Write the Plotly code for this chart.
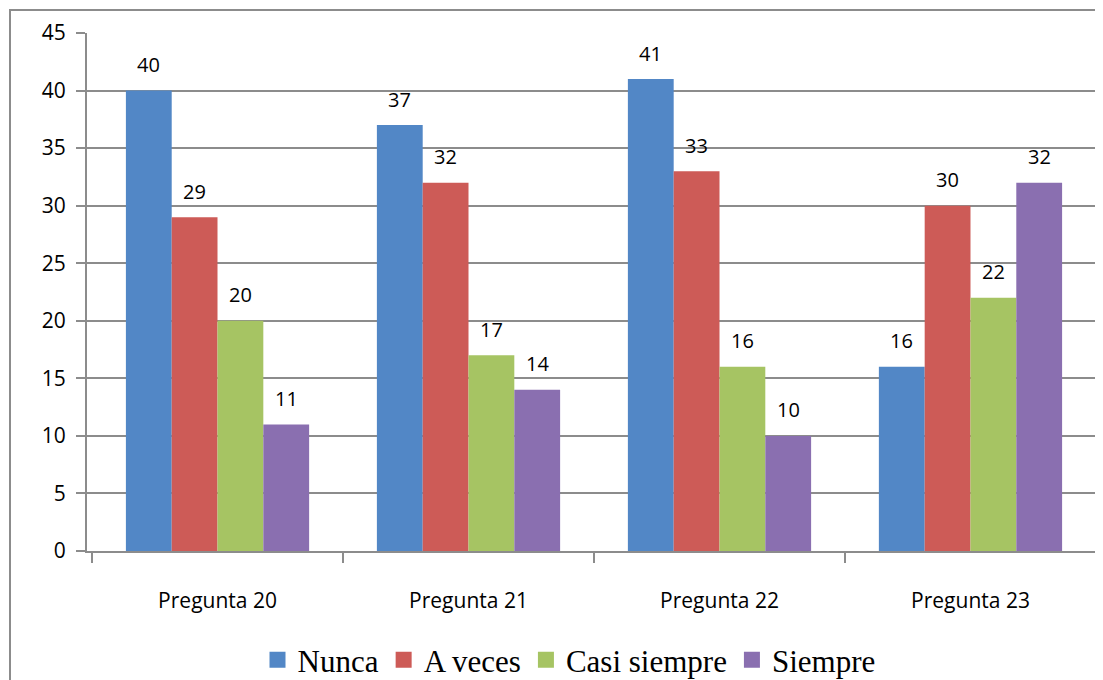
import plotly.graph_objects as go

categories = ["Pregunta 20", "Pregunta 21", "Pregunta 22", "Pregunta 23"]
series_names = ["Nunca", "A veces", "Casi siempre", "Siempre"]
nunca = [40, 37, 41, 16]
a_veces = [29, 32, 33, 30]
casi_siempre = [20, 17, 16, 22]
siempre = [11, 14, 10, 32]
y_ticks = [0, 5, 10, 15, 20, 25, 30, 35, 40, 45]

series_values = [nunca, a_veces, casi_siempre, siempre]
colors = ["#5287c6", "#cd5b57", "#a6c463", "#8a6fb0"]

bargap = 0.27
bar_w = (1 - bargap) / len(series_names)

W, H = 1095, 672
L, R, T, B = 79, 2, 25, 129
PW, PH = W - L - R, H - T - B

fig = go.Figure()
for i, (name, vals) in enumerate(zip(series_names, series_values)):
    fig.add_trace(go.Bar(
        name=name, x=categories, y=vals, showlegend=False,
        marker=dict(color=colors[i], line=dict(width=0)),
    ))
# legend entries with larger square symbols
for i, name in enumerate(series_names):
    fig.add_trace(go.Scatter(
        name=name, x=[None], y=[None], mode="markers",
        marker=dict(symbol="square", size=16, color=colors[i]),
        showlegend=True,
    ))

annotations = []
for i, vals in enumerate(series_values):
    for j, v in enumerate(vals):
        annotations.append(dict(
            x=j + (i - 1.5) * bar_w, y=v, xref="x", yref="y",
            text=str(v), showarrow=False, yshift=26,
            font=dict(family="Open Sans, DejaVu Sans", size=20, color="#000000"),
        ))

fig.update_layout(
    width=W, height=H,
    margin=dict(l=L, r=R, t=T, b=B, autoexpand=False),
    paper_bgcolor="white", plot_bgcolor="white",
    barmode="group", bargap=bargap, bargroupgap=0,
    showlegend=True,
    legend=dict(
        orientation="h", xref="container", x=(569 - 8) / W, xanchor="center",
        yref="container", y=(H - 652) / H, yanchor="middle",
        font=dict(family="Liberation Serif, Times New Roman, serif", size=31, color="#000000"),
        itemwidth=30, tracegroupgap=0, itemsizing="trace",
    ),
    annotations=annotations,
    shapes=[dict(type="rect", xref="paper", yref="paper",
                 x0=(2 - L) / PW, x1=(W + 20 - L) / PW,
                 y0=-(H + 20 - (T + PH)) / PH, y1=(T + PH - 2) / PH,
                 line=dict(color="#8c8c8c", width=2), layer="below")],
)
fig.update_xaxes(
    type="category", range=[-0.52, 3.52], automargin=False,
    showline=True, linecolor="#8c8c8c", linewidth=2,
    ticks="outside", tickson="boundaries", ticklen=10, tickcolor="#8c8c8c", tickwidth=2,
    ticklabelstandoff=30,
    tickfont=dict(family="Open Sans, DejaVu Sans", size=21, color="#000000"),
    showgrid=False,
)
fig.update_yaxes(
    range=[0, 45], tickvals=y_ticks, automargin=False,
    showline=True, linecolor="#8c8c8c", linewidth=2,
    ticks="outside", ticklen=9, tickcolor="#8c8c8c", tickwidth=2,
    ticklabelstandoff=6,
    tickfont=dict(family="Open Sans, DejaVu Sans", size=21, color="#000000"),
    showgrid=True, gridcolor="#8c8c8c", gridwidth=2,
    zeroline=False,
)

fig.write_html("out.html")
